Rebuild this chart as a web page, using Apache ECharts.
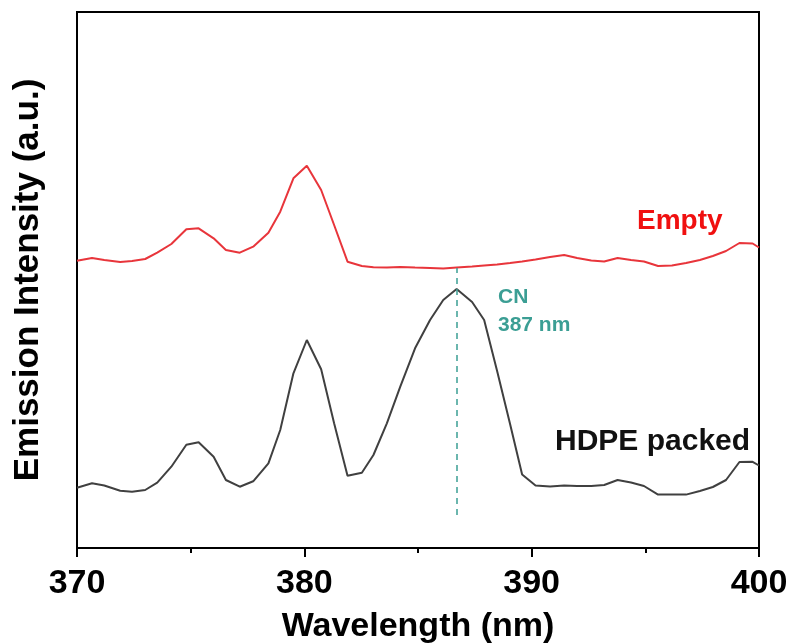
<!DOCTYPE html>
<html>
<head>
<meta charset="utf-8">
<script src="https://cdn.jsdelivr.net/npm/echarts@6/dist/echarts.min.js"></script>
<style>
html,body{margin:0;padding:0;background:#fff;}
#chart{width:791px;height:644px;}
</style>
</head>
<body>
<div id="chart"></div>
<script>
// Wavelength sample points (nm)
const wavelength = [370.00,370.66,371.20,371.90,372.42,373.00,373.53,374.15,374.81,375.35,376.01,376.55,377.16,377.75,378.42,378.94,379.52,380.11,380.74,381.31,381.90,382.53,383.04,383.63,384.22,384.87,385.53,386.11,386.70,387.38,387.91,388.48,389.05,389.58,390.17,390.81,391.43,392.00,392.62,393.19,393.78,394.37,394.94,395.56,396.17,396.79,397.40,397.97,398.55,399.14,399.72,400.00];
// Emission intensity (a.u., offset-stacked as in the figure)
const emptyIntensity = [287.3,290,288,286,287,289,295.3,304,318.7,319.7,309.7,298,295.3,301.3,315.3,336.3,369.7,382.3,358,323,286.3,282,280.7,280.5,281,280.5,280,279.5,280.5,281.5,282.5,283.5,285,286.5,288.5,291,293,290,287.5,286.5,290,288,286.5,282,282.5,285,288,292,297,305,304.5,300.5];
const hdpeIntensity = [60.3,64.7,62.5,57.3,56.3,58,65.3,81.3,103.3,105.7,91.3,68,61.3,66.7,84.7,118,174.7,208,178.7,124.7,72.3,75.3,93,124.7,161.3,199.7,228,248,259,246,228,177,124,73.5,62.5,61.5,62.5,62,62,63,68,65.5,62,53.4,53.4,53.4,57,61,68,86,86.2,82.5];
const xTicks = [370, 380, 390, 400];
const cnPeak = 386.7;
const cnLineRange = [33, 280];

const pairs = (xs, ys) => xs.map((x, i) => [x, ys[i]]);
const FONT = 'Liberation Sans, Arial, sans-serif';

const chart = echarts.init(document.getElementById('chart'), null, {renderer: 'canvas'});
chart.setOption({
  backgroundColor: '#fff',
  animation: false,
  grid: {left: 77, right: 32, top: 12, bottom: 96, containLabel: false, outerBoundsMode: 'none',
         show: true, borderColor: '#000', borderWidth: 2, backgroundColor: 'transparent'},
  xAxis: {
    type: 'value', min: xTicks[0], max: xTicks[xTicks.length - 1], interval: 10,
    name: 'Wavelength (nm)', nameLocation: 'middle', nameGap: 62,
    nameTextStyle: {fontFamily: FONT, fontWeight: 'bold', fontSize: 34, color: '#000'},
    axisLine: {show: true, lineStyle: {color: '#000', width: 2}},
    axisTick: {show: true, inside: false, length: 9, lineStyle: {color: '#000', width: 2}},
    minorTick: {show: true, splitNumber: 2, length: 5, lineStyle: {color: '#000', width: 2}},
    axisLabel: {fontFamily: FONT, fontWeight: 'bold', fontSize: 34, color: '#000', margin: 19},
    splitLine: {show: false}
  },
  yAxis: {
    type: 'value', min: 0, max: 536,
    name: 'Emission Intensity (a.u.)', nameLocation: 'middle', nameGap: 31,
    nameTextStyle: {fontFamily: FONT, fontWeight: 'bold', fontSize: 35, color: '#000'},
    axisLine: {show: true, lineStyle: {color: '#000', width: 2}},
    axisTick: {show: false}, axisLabel: {show: false}, splitLine: {show: false}
  },
  series: [
    {
      name: 'Empty', type: 'line', data: pairs(wavelength, emptyIntensity),
      showSymbol: false, lineStyle: {color: '#e8353b', width: 2}, itemStyle: {color: '#e8353b'}
    },
    {
      name: 'HDPE packed', type: 'line', data: pairs(wavelength, hdpeIntensity),
      showSymbol: false, lineStyle: {color: '#404040', width: 2}, itemStyle: {color: '#404040'},
      markLine: {
        silent: true, symbol: ['none', 'none'], label: {show: false},
        lineStyle: {color: '#3b9e94', width: 1.5, type: [6, 5]},
        data: [[{coord: [cnPeak, cnLineRange[0]]}, {coord: [cnPeak, cnLineRange[1]]}]]
      }
    }
  ],
  graphic: [
    {type: 'text', left: 637, top: 207, style: {text: 'Empty', fill: '#f01010', font: 'bold 28px ' + FONT}},
    {type: 'text', left: 555, top: 427, style: {text: 'HDPE packed', fill: '#111', font: 'bold 30px ' + FONT}},
    {type: 'text', left: 498, top: 283, style: {text: 'CN\n387 nm', fill: '#3b9e94', font: 'bold 21px ' + FONT, lineHeight: 28}}
  ]
});
</script>
</body>
</html>
